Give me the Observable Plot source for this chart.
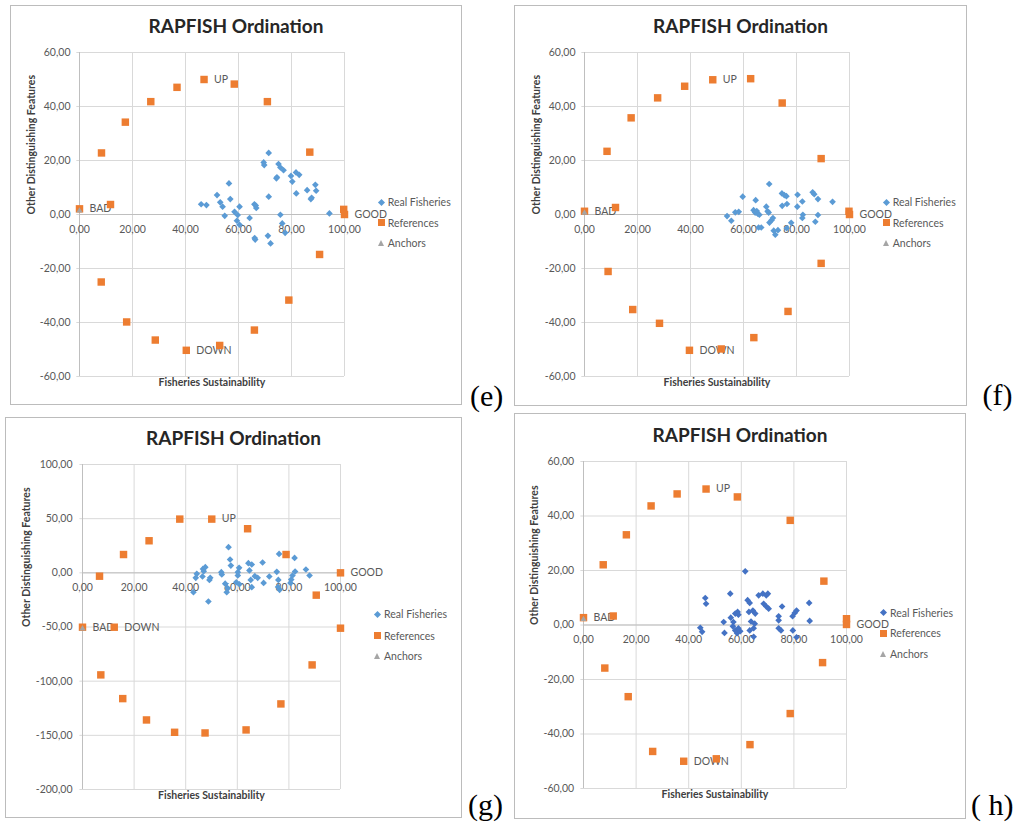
<!DOCTYPE html>
<html>
<head>
<meta charset="utf-8">
<script src="https://cdn.jsdelivr.net/npm/d3@7"></script>
<script src="https://cdn.jsdelivr.net/npm/@observablehq/plot@0.6"></script>
<style>
  html, body { margin: 0; padding: 0; background: #fff; }
  body { width: 1021px; height: 829px; position: relative; overflow: hidden; font-family: Lato, "Open Sans", sans-serif; }
  .box { position: absolute; border: 1px solid #bcbcbc; box-sizing: border-box; background: #fff; }
  .plotwrap { position: absolute; }
  .title { position: absolute; text-align: center; font-weight: bold; font-size: 19px; line-height: 19px; color: #262626; white-space: nowrap; }
  .leg { position: absolute; font-size: 10.5px; line-height: 14px; height: 14px; color: #595959; white-space: nowrap; }
  .sym { position: absolute; }
  .tag { position: absolute; font-family: "Liberation Serif", "Times New Roman", serif; font-size: 30px; line-height: 30px; color: #000; white-space: pre; }
</style>
</head>
<body>
<script>
// ---------- shared axis data ----------
const xTicks = [0, 20, 40, 60, 80, 100];
const yTicks60 = [-60, -40, -20, 0, 20, 40, 60];
const yTicksG = [-200, -150, -100, -50, 0, 50, 100];
const legendNames = ["Real Fisheries", "References", "Anchors"];
const chartTitle = "RAPFISH Ordination";
const xTitle = "Fisheries Sustainability";
const yTitle = "Other Distinguishing Features";

// ---------- panel (e) ----------
const eReal = [
  [45.9,3.8],[47.9,3.5],[51.9,7.2],[53.1,4.5],[54,2.9],[54.8,-0.5],[56.4,11.5],[56.9,5.7],[58.5,1],[59.7,-0.2],
  [59.4,-2.3],[60.4,-3.8],[60.4,2.9],[64.2,-1.3],[66,3.8],[66.5,3.3],[66.7,2.4],[66.1,-8.7],[66.3,-9.3],[69.5,19.3],
  [69.7,18.3],[71.4,22.8],[71.4,6.6],[71.1,-7.9],[72.1,-10.7],[74.3,13.4],[74.5,13.8],[75.1,18.7],[75.8,17.4],[77,16.4],
  [75.8,-0.1],[76.5,-3.3],[77.6,-6.8],[79.8,14.3],[80.3,12.2],[81.7,15.6],[82.9,14.7],[81.8,7.8],[85.9,9.0],[89,11],
  [89.3,8.8],[87.3,5.7],[87.6,6.2],[94.3,0.4]
];
const eRefs = [
  [0,2.1],[8.3,22.8],[11.7,3.7],[17.3,34.2],[26.9,41.8],[36.8,47.1],[47,50],[58.4,48.3],[70.9,41.8],[86.9,23.1],
  [99.7,1.9],[100,0],[90.6,-14.8],[79,-31.7],[66,-42.8],[52.9,-48.5],[40.3,-50.3],[28.6,-46.5],[17.8,-39.8],[8.2,-25]
];
const eAnchors = [[0,1.4]];
const eLabels = [["UP",47,50],["BAD",0,2.1],["GOOD",100,0],["DOWN",40.3,-50.3]];

// ---------- panel (f) ----------
const fReal = [
  [69.7,11.3],[59.7,6.6],[64.6,5.3],[68.6,2.9],[69.1,1.2],[69.5,0.7],[63.8,1.6],[64.4,0.7],[65.4,0.3],[66,-0.1],
  [65,1.3],[53.8,-0.6],[55.4,-2.3],[56.9,0.8],[58.2,1.0],[65.7,-4.8],[66.7,-4.8],[69.8,-3],[70.6,-2.1],[71.1,-1.3],
  [71.4,-6],[72,-7.5],[73,-5.8],[74.5,7.8],[75.4,7.2],[76.2,6.8],[74.6,3.2],[76.4,3.9],[76.3,-5.1],[78,-3.1],
  [80.4,7.3],[82.2,4.8],[80.3,2.9],[82.4,-0.1],[82.2,-1.3],[86.1,8.2],[86.7,7.5],[88.1,5.7],[88.1,-0.2],[87.1,-2.7],
  [93.6,4.7]
];
const fRefs = [
  [0,1.2],[8.5,23.4],[11.7,2.6],[17.6,35.8],[27.6,43.2],[37.8,47.5],[48.4,49.9],[62.7,50.3],[74.6,41.3],[89.3,20.7],
  [99.8,1.2],[100,0],[89.3,-18.1],[76.8,-35.9],[63.9,-45.6],[51.6,-49.8],[39.6,-50.3],[28.3,-40.3],[18.2,-35.2],[8.9,-21.1]
];
const fAnchors = [[0,0.6]];
const fLabels = [["UP",48.4,49.9],["BAD",0,1.2],["GOOD",100,0],["DOWN",39.6,-50.3]];

// ---------- panel (g) ----------
const gReal = [
  [43.0,-17.9],[43.9,-4.6],[44.3,-0.9],[46.5,-3.4],[46.7,3.6],[47.0,1.5],[47.6,5.2],[48.8,-26.5],[49.2,-6.5],[49.5,-4.6],
  [53.8,0.6],[54.0,-1.5],[55.3,-10],[55.9,-17.9],[56.2,-14],[56.6,23.7],[57.2,12.3],[57.5,6.7],[59.6,-8.7],[60.2,-2.5],
  [60.2,0.6],[60.7,4.6],[60.8,-10.5],[64.3,8.9],[64.7,2.2],[65.2,-6.5],[65.6,7.7],[65.6,-13.2],[66.8,-3.1],[67.9,-4.6],
  [69.8,9.5],[70.2,-9.3],[72.4,-3.4],[75.3,0.9],[75.9,-6.5],[76.2,17.5],[76.4,-15.7],[75.8,-13],[80.6,-9.3],[80.9,-6.2],
  [81.4,-2.5],[82.2,13.8],[82.4,1.2],[86.6,3.1],[88.0,-2.5]
];
const gRefs = [
  [0,-50.2],[6.6,-3.1],[12.3,-50.2],[15.9,16.9],[25.8,29.6],[37.7,49.6],[50.1,49.6],[64,40.7],[78.9,16.9],[100,0],
  [90.6,-20.6],[100,-51.1],[89,-85],[76.9,-121],[63.4,-145],[47.5,-147.8],[35.7,-147.2],[24.8,-135.8],[15.6,-116.1],[7.1,-94.2]
];
const gAnchors = [[0,-51.5]];
const gLabels = [["UP",50.1,49.6],["BAD",0,-50.2],["GOOD",100,0],["DOWN",12.3,-50.2]];

// ---------- panel (h) ----------
const hReal = [
  [61.5,19.7],[55.8,11.5],[46.3,9.9],[46.6,7.8],[44.4,-1],[45.1,-2.5],[53.3,1.1],[53.6,-2.9],[56,2.7],[57,1.1],
  [57.7,4.2],[58.6,4.8],[58.9,3.8],[56.8,-0.5],[57.7,-2],[58.4,-3],[59.6,-2.3],[58.9,-1.2],[62.4,9.1],[63.2,8.1],
  [62.9,4.8],[64.4,5.3],[65.3,4.2],[63.7,1.3],[65.1,0.5],[63.2,-2],[64.7,-1.2],[64.7,-4.3],[66.6,10.9],[68.2,11.5],
  [69.5,10.9],[70.1,11.5],[68.5,7.8],[69.5,6.8],[70.4,6.0],[75.5,6.8],[74.2,3.2],[74.2,1.7],[74.2,-1.2],[75.1,-2],
  [79.5,3.2],[80.3,4.4],[81,5.3],[79.6,-2],[81,-4.5],[85.8,8.1],[86,1.5]
];
const hRefs = [
  [0,2.7],[7.5,22.1],[11.3,3.3],[16.3,33.1],[25.7,43.7],[35.6,48.1],[46.6,49.9],[58.5,47],[78.6,38.4],[91.4,16.1],
  [100,2.3],[100,0.2],[90.9,-13.8],[78.6,-32.5],[63.3,-43.9],[50.5,-49.1],[38.1,-50],[26.3,-46.4],[17,-26.3],[8.1,-15.8]
];
const hAnchors = [[0,2.1]];
const hLabels = [["UP",46.6,49.9],["BAD",0,2.7],["GOOD",100,0.2],["DOWN",38.1,-50]];

// ---------- colours ----------
const orange = "#ed7d31";
const blueLight = "#5b9bd5";
const blueDark = "#4472c4";
const grayAnchor = "#a5a5a5";

// ---------- layout (positions only) ----------
const panels = [
  {left:10, top:5, w:452, h:400, mL:69, mR:118, mT:47, mB:29, yDomain:[-60,60], yTicks:yTicks60,
   ytdx:-9, xtdy:15.5, ytitleDx:-48.3, xtitleDy:9.7, titleBase:33.3, lsx:381.7, ltx:387.7, lys:[202,222.7,243.3],
   tag:"(e)", tagLeft:470, tagBase:406.5, real:eReal, refs:eRefs, anchors:eAnchors, labels:eLabels, blue:blueLight},
  {left:514, top:5, w:453, h:401, mL:70, mR:118, mT:47, mB:30, yDomain:[-60,60], yTicks:yTicks60,
   ytdx:-9, xtdy:15.5, ytitleDx:-48.3, xtitleDy:9.7, titleBase:33.3, lsx:886.7, ltx:892.7, lys:[202,222.7,243.3],
   tag:"(f)", tagLeft:982.5, tagBase:405.5, real:fReal, refs:fRefs, anchors:fAnchors, labels:fLabels, blue:blueLight},
  {left:5, top:417, w:457, h:401, mL:77, mR:122, mT:47, mB:29, yDomain:[-200,100], yTicks:yTicksG,
   ytdx:-10, xtdy:14.4, ytitleDx:-55.6, xtitleDy:9.6, titleBase:445, lsx:377.7, ltx:384, lys:[614.3,635.7,656],
   tag:"(g)", tagLeft:468, tagBase:815, real:gReal, refs:gRefs, anchors:gAnchors, labels:gLabels, blue:blueLight},
  {left:514, top:413, w:452, h:406, mL:69, mR:120, mT:48, mB:31, yDomain:[-60,60], yTicks:yTicks60,
   ytdx:-9.3, xtdy:14.6, ytitleDx:-49, xtitleDy:9.7, titleBase:441.7, lsx:883.3, ltx:890, lys:[612.7,633.3,654.3],
   tag:"( h)", tagLeft:971, tagBase:815, real:hReal, refs:hRefs, anchors:hAnchors, labels:hLabels, blue:blueDark}
];

const fmt = v => v.toFixed(2).replace(".", ",");

function el(cls, styles, text) {
  const d = document.createElement("div");
  if (cls) d.className = cls;
  Object.assign(d.style, styles);
  if (text !== undefined) d.textContent = text;
  document.body.appendChild(d);
  return d;
}

for (const p of panels) {
  // outer box
  el("box", {left: p.left + "px", top: p.top + "px", width: p.w + "px", height: p.h + "px"});

  const svg = Plot.plot({
    width: p.w, height: p.h,
    marginLeft: p.mL, marginRight: p.mR, marginTop: p.mT, marginBottom: p.mB,
    x: {domain: [0, 100], axis: null},
    y: {domain: p.yDomain, axis: null},
    style: {background: "transparent", fontFamily: "Lato, sans-serif", overflow: "visible"},
    marks: [
      Plot.ruleX(xTicks, {x: d => d, stroke: "#d9d9d9", strokeWidth: 1}),
      Plot.ruleY(p.yTicks, {y: d => d, x1: () => -1, x2: () => 100, stroke: "#d9d9d9", strokeWidth: 1}),
      Plot.ruleX([0], {x: d => d, stroke: "#bfbfbf"}),
      Plot.ruleY([0], {y: d => d, x1: () => 0, x2: () => 100, stroke: "#bfbfbf"}),
      Plot.text(p.yTicks, {x: () => 0, y: d => d, text: d => fmt(d), textAnchor: "end", dx: p.ytdx, fill: "#595959", fontSize: 10.5}),
      Plot.text(xTicks, {x: d => d, y: () => 0, text: d => fmt(d), dy: p.xtdy, fill: "#595959", fontSize: 10.5}),
      Plot.text([yTitle], {frameAnchor: "left", text: d => d, rotate: -90, dx: p.ytitleDx, fontWeight: "bold", fontSize: 10.5, fill: "#404040"}),
      Plot.text([xTitle], {frameAnchor: "bottom", text: d => d, dy: p.xtitleDy, fontWeight: "bold", fontSize: 10.5, fill: "#404040"}),
      Plot.dot(p.real, {x: d => d[0], y: d => d[1], symbol: "diamond2", r: 3, fill: p.blue}),
      Plot.text(p.labels, {x: d => d[1], y: d => d[2], text: d => d[0], textAnchor: "start", dx: 10, fill: "#595959", fontSize: 10.5}),
      Plot.dot(p.refs, {x: d => d[0], y: d => d[1], symbol: "square", r: 4.2, fill: orange}),
      Plot.dot(p.anchors, {x: d => d[0], y: d => d[1], symbol: "triangle", r: 2.3, fill: grayAnchor})
    ]
  });
  const wrap = el("plotwrap", {left: p.left + "px", top: p.top + "px", width: p.w + "px", height: p.h + "px"});
  wrap.appendChild(svg);

  // title (baseline ~ top + 0.887em for Lato, line-height 1em)
  el("title", {left: p.left + "px", top: (p.titleBase - 0.887 * 19) + "px", width: p.w + "px"}, chartTitle);

  // legend
  const colors = [p.blue, orange, grayAnchor];
  legendNames.forEach((name, i) => {
    const cy = p.lys[i];
    let s;
    if (i === 0) {
      s = el("sym", {left: (p.lsx - 2.5) + "px", top: (cy - 2.5) + "px", width: "5px", height: "5px", background: colors[i], transform: "rotate(45deg)"});
    } else if (i === 1) {
      s = el("sym", {left: (p.lsx - 3.5) + "px", top: (cy - 3.5) + "px", width: "7px", height: "7px", background: colors[i]});
    } else {
      s = el("sym", {left: (p.lsx - 3.5) + "px", top: (cy - 3) + "px", width: "0", height: "0",
        borderLeft: "3.5px solid transparent", borderRight: "3.5px solid transparent", borderBottom: "6px solid " + colors[i]});
    }
    el("leg", {left: p.ltx + "px", top: (cy - 7) + "px"}, name);
  });

  // panel tag (baseline ~ top + 0.8375em for Liberation Serif)
  el("tag", {left: p.tagLeft + "px", top: (p.tagBase - 0.8375 * 30) + "px"}, p.tag);
}
</script>
</body>
</html>
